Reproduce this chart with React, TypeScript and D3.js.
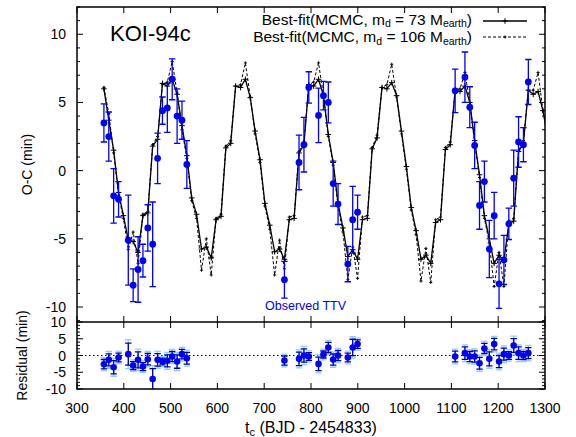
import React from 'react';
import * as d3 from 'd3';

// transit epochs (BJD - 2454833)
const epochs = [
  357.5, 367.9, 378.3, 388.8, 399.2, 409.6, 420.0, 430.5, 440.9, 451.3,
  461.7, 472.2, 482.6, 493.0, 503.4, 513.9, 524.3, 534.7, 545.1, 555.5,
  566.0, 576.4, 586.8, 597.2, 607.7, 618.1, 628.5, 638.9, 649.4, 659.8,
  670.2, 680.6, 691.1, 701.5, 711.9, 722.3, 732.8, 743.2, 753.6, 764.0,
  774.4, 784.9, 795.3, 805.7, 816.1, 826.6, 837.0, 847.4, 857.8, 868.3,
  878.7, 889.1, 899.5, 910.0, 920.4, 930.8, 941.2, 951.7, 962.1, 972.5,
  982.9, 993.3, 1003.8, 1014.2, 1024.6, 1035.0, 1045.5, 1055.9, 1066.3, 1076.7,
  1087.2, 1097.6, 1108.0, 1118.4, 1128.9, 1139.3, 1149.7, 1160.1, 1170.5, 1181.0,
  1191.4, 1201.8, 1212.2, 1222.7, 1233.1, 1243.5, 1253.9, 1264.4, 1274.8, 1285.2,
  1295.6, 1306.0,
];

// Best-fit model, m_d = 73 M_earth (solid)
const modelSolid = [
  6.0, 3.7, 1.5, -1.6, -3.3, -5.1, -5.2, -6.0, -3.3, -3.1,
  1.8, 2.3, 6.4, 6.2, 6.7, 5.6, 3.3, 1.1, -2.0, -3.2,
  -5.75, -5.6, -6.4, -3.6, -3.35, 1.67, 2.0, 6.2, 6.1, 6.7,
  5.35, 2.9, 0.8, -2.4, -4.0, -5.95, -5.75, -6.5, -3.6, -3.5,
  1.3, 1.9, 6.3, 6.2, 6.7, 5.5, 2.65, 0.6, -2.4, -4.2,
  -6.3, -5.8, -6.5, -3.6, -3.5, 1.6, 2.4, 6.1, 6.0, 6.45,
  5.5, 2.9, 0.3, -2.7, -4.4, -6.5, -6.2, -6.8, -3.8, -3.6,
  1.55, 1.9, 5.9, 5.8, 6.2, 5.0, 2.2, -0.3, -3.3, -5.0,
  -6.8, -6.2, -6.6, -3.9, -3.7, 1.4, 2.0, 5.9, 5.6, 5.8,
  4.4, 2.5,
];

// Best-fit model, m_d = 106 M_earth (dashed)
const modelDashed = [
  6.1, 4.2, 1.3, -1.8, -3.5, -5.8, -4.5, -6.8, -3.2, -3.0,
  1.9, 2.5, 6.3, 6.5, 8.0, 5.7, 3.0, 0.9, -2.2, -3.5,
  -7.3, -5.0, -7.65, -3.5, -3.2, 1.8, 2.2, 6.2, 6.3, 7.9,
  5.4, 2.7, 0.6, -2.6, -4.3, -7.65, -5.1, -7.2, -3.4, -3.3,
  1.4, 2.1, 6.3, 6.5, 7.9, 5.5, 2.5, 0.4, -2.6, -4.5,
  -8.0, -5.6, -7.9, -3.4, -3.3, 1.7, 2.6, 6.1, 6.3, 7.8,
  5.4, 2.7, 0.1, -2.9, -4.7, -8.1, -5.7, -8.2, -3.6, -3.4,
  1.7, 2.1, 5.9, 6.0, 7.2, 5.0, 2.0, -0.5, -3.5, -5.3,
  -8.5, -6.0, -8.5, -3.7, -3.5, 1.5, 2.2, 5.9, 5.9, 7.2,
  4.4, 2.3,
];

// Observed TTV
const obsT = [
  357.5, 367.9, 378.3, 388.8, 409.6, 420.0, 430.5, 440.9, 451.3, 461.7,
  472.2, 482.6, 493.0, 503.4, 513.9, 524.3, 534.7,
  743.2, 774.4, 784.9, 795.3, 816.1, 826.6, 837.0, 847.4, 857.8, 878.7, 889.1, 899.5,
  1108.0, 1128.9, 1139.3, 1149.7, 1160.1, 1170.5, 1181.0, 1191.4, 1201.8, 1212.2,
  1222.7, 1233.1, 1243.5, 1253.9, 1264.4,
];
const obsV = [
  3.5, 2.5, -1.85, -2.1, -5.1, -8.4, -7.25, -6.6, -4.2, -5.4,
  0.9, 4.4, 4.6, 6.7, 4.0, 3.7, 0.45,
  -8.0, 0.6, 1.9, 6.1, 4.05, 5.5, 5.0, -0.95, -2.45, -6.85, -3.6, -3.05,
  5.85, 6.85, 4.65, 1.85, -2.55, -0.8, -5.75, -3.3, -8.3, -6.55,
  -3.9, -0.55, 2.1, 1.9, 6.5,
];
const obsErr = [
  1.4, 1.8, 2.0, 1.3, 3.3, 1.2, 2.4, 1.2, 1.7, 3.1,
  1.85, 1.0, 1.8, 1.5, 2.0, 1.4, 1.75,
  1.35, 2.0, 2.0, 1.15, 2.0, 1.05, 1.5, 1.65, 1.5, 1.3, 2.45, 1.25,
  1.6, 1.85, 1.5, 1.7, 1.75, 1.5, 2.1, 1.7, 1.8, 1.8,
  1.15, 2.05, 1.85, 1.25, 1.65,
];
// Residuals
const residV = [
  -2.6, -1.3, -3.5, -0.6, 0.4, -3.0, -1.3, -3.3, -1.1, -7.0,
  -1.3, -1.8, -1.6, -0.3, -1.8, 0.4, -0.8,
  -1.5, -1.0, 0.0, -0.3, -2.5, 0.3, 2.4, -1.2, 0.0, -0.6, 2.4, 3.4,
  -0.3, 0.7, -0.3, -0.3, -2.3, 2.1, -1.0, 3.4, -1.8, 0.4,
  0.0, 3.0, 0.7, 0.0, 0.7,
];
const residErrLight = [
  2.0, 2.5, 2.7, 1.9, 4.3, 1.7, 3.2, 1.7, 2.3, 4.0,
  2.5, 1.5, 2.5, 2.1, 2.7, 2.0, 2.4,
  1.9, 2.7, 2.7, 1.7, 2.7, 1.6, 2.1, 2.3, 2.1, 1.9, 3.2, 1.8,
  2.2, 2.5, 2.1, 2.3, 2.4, 2.1, 2.8, 2.3, 2.5, 2.5,
  1.7, 2.8, 2.5, 1.8, 2.3,
];

const xTicks = [300, 400, 500, 600, 700, 800, 900, 1000, 1100, 1200, 1300];
const yTicks = [-10, -5, 0, 5, 10];
const yMinor = d3.range(-11, 13, 1);
const rTicks = [-10, -5, 0, 5, 10];
const rMinor = d3.range(-10, 11, 1);

const L = 77, R = 545, T = 7, MID = 322, B = 389;
const FONT = 'Liberation Sans, Arial, sans-serif';
const BLUE = '#0000ff';

export default function App() {
  const x = d3.scaleLinear().domain([300, 1300]).range([L, R]);
  const y = d3.scaleLinear().domain([-11.1, 12]).range([MID, T]);
  const yr = d3.scaleLinear().domain([-10, 10]).range([B, MID]);

  const lineS = d3.line<number>().x((_, i) => x(epochs[i])).y((d) => y(d));
  const lineD = d3.line<number>().x((_, i) => x(epochs[i])).y((d) => y(d));

  const plus = (cx: number, cy: number, a: number, key: string, sw = 1) => (
    <path key={key} d={`M${cx - a},${cy}H${cx + a}M${cx},${cy - a}V${cy + a}`} stroke="#000" strokeWidth={sw} fill="none" />
  );

  const errBar = (cx: number, y0: number, y1: number, color: string, key: string, cap = 3.2, sw = 1.3) => (
    <path key={key} d={`M${cx},${y0}V${y1}M${cx - cap},${y0}H${cx + cap}M${cx - cap},${y1}H${cx + cap}`} stroke={color} strokeWidth={sw} fill="none" />
  );

  const legendText = (num: string) => (
    <>
      <tspan>Best-fit(MCMC, m</tspan>
      <tspan dy={2.5} fontSize={10.5}>d</tspan>
      <tspan dy={-2.5}>{` = ${num} M`}</tspan>
      <tspan dy={2.5} fontSize={10.5}>earth</tspan>
      <tspan dy={-2.5}>)</tspan>
    </>
  );

  return (
    <svg width={576} height={437} style={{ position: 'absolute', left: 0, top: 0, background: '#fff' }} fontFamily={FONT}>
      <defs>
        <clipPath id="cTop"><rect x={L} y={T} width={R - L} height={MID - T} /></clipPath>
        <clipPath id="cBot"><rect x={L} y={MID} width={R - L} height={B - MID} /></clipPath>
      </defs>

      {/* ticks: top panel */}
      {yMinor.map((v) => {
        const len = v % 5 === 0 ? 6 : 3;
        return (
          <g key={'ym' + v}>
            <line x1={L} x2={L + len} y1={y(v)} y2={y(v)} stroke="#000" strokeWidth={1} />
            <line x1={R} x2={R - len} y1={y(v)} y2={y(v)} stroke="#000" strokeWidth={1} />
          </g>
        );
      })}
      {rMinor.map((v) => {
        const len = v % 5 === 0 ? 6 : 3;
        return (
          <g key={'rm' + v}>
            <line x1={L} x2={L + len} y1={yr(v)} y2={yr(v)} stroke="#000" strokeWidth={1} />
            <line x1={R} x2={R - len} y1={yr(v)} y2={yr(v)} stroke="#000" strokeWidth={1} />
          </g>
        );
      })}
      {xTicks.map((t) => (
        <g key={'xt' + t}>
          <line x1={x(t)} x2={x(t)} y1={T} y2={T + 6} stroke="#000" />
          <line x1={x(t)} x2={x(t)} y1={MID} y2={MID - 6} stroke="#000" />
          <line x1={x(t)} x2={x(t)} y1={MID} y2={MID + 6} stroke="#000" />
          <line x1={x(t)} x2={x(t)} y1={B} y2={B - 6} stroke="#000" />
          <text x={x(t)} y={413} fontSize={14} textAnchor="middle">{t}</text>
        </g>
      ))}
      {yTicks.map((v) => (
        <text key={'yl' + v} x={66} y={y(v) + 5} fontSize={14} textAnchor="end">{v}</text>
      ))}
      {rTicks.map((v) => (
        <text key={'rl' + v} x={66} y={yr(v) + 5} fontSize={14} textAnchor="end">{v}</text>
      ))}

      {/* zero line residual */}
      <line x1={L} x2={R} y1={yr(0)} y2={yr(0)} stroke="#000" strokeWidth={1} strokeDasharray="1.5,2.5" />

      {/* models */}
      <g clipPath="url(#cTop)">
        <path d={lineD(modelDashed) || ''} fill="none" stroke="#000" strokeWidth={1} strokeDasharray="3,2" />
        {modelDashed.map((v, i) => plus(x(epochs[i]), y(v), 1.6, 'pd' + i, 0.9))}
        <path d={lineS(modelSolid) || ''} fill="none" stroke="#000" strokeWidth={1.3} />
        {modelSolid.map((v, i) => plus(x(epochs[i]), y(v), 2.8, 'ps' + i, 1))}
      </g>

      {/* observed */}
      <g clipPath="url(#cTop)">
        {obsT.map((t, i) => errBar(x(t), y(obsV[i] + obsErr[i]), y(obsV[i] - obsErr[i]), BLUE, 'oe' + i))}
        {obsT.map((t, i) => <circle key={'oc' + i} cx={x(t)} cy={y(obsV[i])} r={3.4} fill={BLUE} />)}
      </g>

      {/* residuals */}
      <g clipPath="url(#cBot)">
        {obsT.map((t, i) => errBar(x(t), yr(residV[i] + residErrLight[i]), yr(residV[i] - residErrLight[i]), '#8fd0f6', 'rl' + i, 3.2, 1.3))}
        {obsT.map((t, i) => errBar(x(t), yr(residV[i] + obsErr[i]), yr(residV[i] - obsErr[i]), '#0000a8', 'rd' + i, 3.2, 1.3))}
        {obsT.map((t, i) => <circle key={'rc' + i} cx={x(t)} cy={yr(residV[i])} r={3.3} fill={BLUE} />)}
      </g>

      {/* frames */}
      <rect x={L} y={T} width={R - L} height={B - T} fill="none" stroke="#000" strokeWidth={1.5} />
      <line x1={L} x2={R} y1={MID} y2={MID} stroke="#000" strokeWidth={1.5} />

      {/* legend */}
      <text x={472} y={24.5} fontSize={15.5} textAnchor="end">{legendText('73')}</text>
      <line x1={483} x2={527} y1={21} y2={21} stroke="#000" strokeWidth={1.3} />
      {plus(505, 21, 2.8, 'lg1', 1)}
      <text x={472} y={42} fontSize={15.5} textAnchor="end">{legendText('106')}</text>
      <line x1={483} x2={527} y1={37} y2={37} stroke="#000" strokeWidth={1} strokeDasharray="3,2" />
      {plus(505, 37, 1.6, 'lg2', 0.9)}

      <text x={110} y={41} fontSize={22}>KOI-94c</text>
      <text x={265} y={310} fontSize={12.5} fill={BLUE}>Observed TTV</text>

      {/* axis labels */}
      <text transform={`translate(32,${(T + MID) / 2}) rotate(-90)`} fontSize={14} textAnchor="middle">O-C (min)</text>
      <text transform={`translate(27,${(MID + B) / 2}) rotate(-90)`} fontSize={14} textAnchor="middle">Residual (min)</text>
      <text x={(L + R) / 2} y={433} fontSize={16} textAnchor="middle">
        <tspan>t</tspan>
        <tspan dy={3} fontSize={11}>c</tspan>
        <tspan dy={-3}> (BJD - 2454833)</tspan>
      </text>
    </svg>
  );
}
